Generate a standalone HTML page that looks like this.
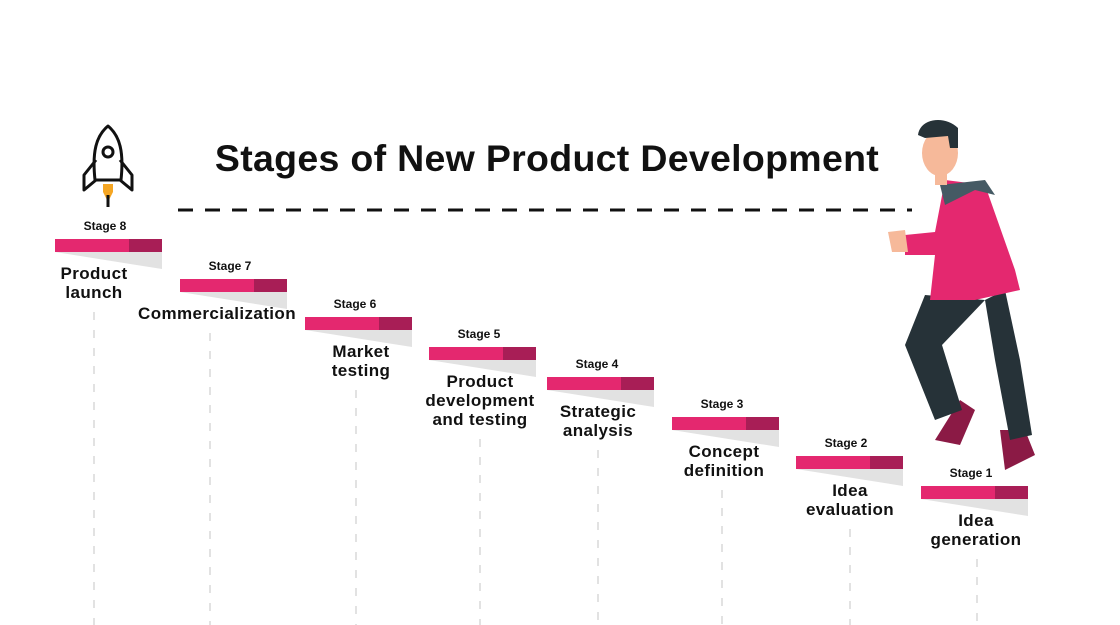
<!DOCTYPE html>
<html><head><meta charset="utf-8"><style>
body{margin:0;width:1120px;height:625px;background:#fff;overflow:hidden;position:relative;font-family:"Liberation Sans",sans-serif}
.t{position:absolute;font-weight:bold;color:#111;text-align:center;white-space:nowrap;transform:translateX(-50%)}
.s{font-size:12px}
.n{font-size:17px;line-height:19px;letter-spacing:0.4px}
</style></head><body>
<div class="t" style="left:547px;top:137px;font-size:37.5px;letter-spacing:0.3px">Stages of New Product Development</div>
<svg width="1120" height="625" style="position:absolute;left:0;top:0">
<line x1="178" y1="210" x2="912" y2="210" stroke="#111" stroke-width="3" stroke-dasharray="15,12"/>
<g id="bars"></g>
<g fill="none" stroke="#111" stroke-width="3" stroke-linejoin="round">
<path d="M108 126 C96 136 92 152 95 180 L121 180 C124 152 120 136 108 126 Z"/>
<circle cx="108" cy="152" r="5"/>
<path d="M96 160 L84 175 L84 190 L96 180"/>
<path d="M120 160 L132 175 L132 190 L120 180"/>
</g>
<path d="M103 184 h10 v8 l-5 10 l-5 -10z" fill="#f5a623"/>
<path d="M108 195 v12" stroke="#111" stroke-width="3"/>
<path d="M960 400 L935 440 L960 445 L975 410Z M1000 430 L1005 470 L1035 455 L1025 430Z" fill="#8b1a45"/>
<path d="M925 295 L905 345 L935 420 L962 410 L942 345 L985 300Z M985 300 L995 360 L1010 440 L1032 435 L1020 360 L1005 290Z" fill="#263238"/>
<path d="M945 180 L985 185 L1015 270 L1020 290 L975 300 L930 300 L935 255 L905 255 L905 235 L935 232Z" fill="#e4286f"/>
<path d="M940 185 L945 205 L975 190 L995 195 L985 180Z" fill="#455a64"/>
<path d="M888 232 L905 230 L908 252 L892 252Z" fill="#f6b99a"/>
<ellipse cx="940" cy="153" rx="18" ry="23" fill="#f6b99a"/>
<rect x="935" y="170" width="12" height="15" fill="#f6b99a"/>
<path d="M918 135 C920 118 945 115 958 128 L958 148 L950 148 L948 136 L925 138Z" fill="#263238"/>
</svg>
<script>
var d=[[8,55,239,"Product<br>launch",94],[7,180,279,"Commercialization",217],[6,305,317,"Market<br>testing",361],[5,429,347,"Product<br>development<br>and testing",480],[4,547,377,"Strategic<br>analysis",598],[3,672,417,"Concept<br>definition",724],[2,796,456,"Idea<br>evaluation",850],[1,921,486,"Idea<br>generation",976]];
var g=document.getElementById('bars'),h='',html='';
var vx=[94,210,356,480,598,722,850,977];
d.forEach(function(r,i){var x=r[1],y=r[2];
h+='<path d="M'+x+' '+(y+13)+' L'+(x+107)+' '+(y+13)+' L'+(x+107)+' '+(y+30)+' Z" fill="#e2e2e2"/>';
h+='<rect x="'+x+'" y="'+y+'" width="74" height="13" fill="#e4286f"/><rect x="'+(x+74)+'" y="'+y+'" width="33" height="13" fill="#a81e56"/>';
var lines=r[3].split('<br>').length;var top=y+25;
var vs=top+lines*19+10;
h+='<line x1="'+vx[i]+'" y1="'+vs+'" x2="'+vx[i]+'" y2="625" stroke="#d8d8d8" stroke-width="1.5" stroke-dasharray="8,10"/>';
html+='<div class="t s" style="left:'+(x+50)+'px;top:'+(y-20)+'px">Stage '+r[0]+'</div>';
html+='<div class="t n" style="left:'+r[4]+'px;top:'+top+'px">'+r[3]+'</div>';});
g.innerHTML=h;document.body.insertAdjacentHTML('beforeend',html);
</script>
</body></html>
